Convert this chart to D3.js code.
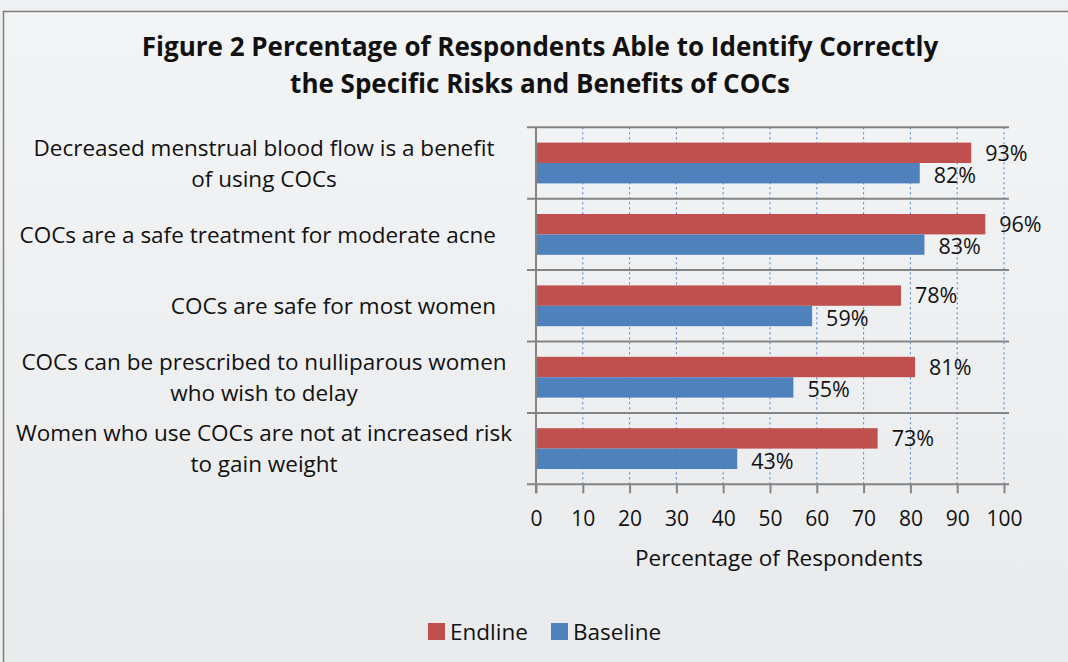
<!DOCTYPE html>
<html>
<head>
<meta charset="utf-8">
<script src="https://cdn.jsdelivr.net/npm/d3@7"></script>
<style>
  body { margin: 0; background: #eceef0; }
  svg { display: block; font-family: "Open Sans", sans-serif; }
</style>
</head>
<body>
<svg width="1068" height="662"></svg>
<script>
// chart data
var categories = [
  ["Decreased menstrual blood flow is a benefit", "of using COCs"],
  ["COCs are a safe treatment for moderate acne"],
  ["COCs are safe for most women"],
  ["COCs can be prescribed to nulliparous women", "who wish to delay"],
  ["Women who use COCs are not at increased risk", "to gain weight"]
];
var seriesNames = ["Endline", "Baseline"];
var endline = [93, 96, 78, 81, 73];
var baseline = [82, 83, 59, 55, 43];
var xTicks = [0, 10, 20, 30, 40, 50, 60, 70, 80, 90, 100];
var titleLines = [
  "Figure 2 Percentage of Respondents Able to Identify Correctly",
  "the Specific Risks and Benefits of COCs"
];
var xTitle = "Percentage of Respondents";

var colors = { Endline: "#c0504d", Baseline: "#4f81bd" };

var svg = d3.select("svg");
var width = +svg.attr("width");
var height = +svg.attr("height");

// background gradient and frame
var defs = svg.append("defs");
var grad = defs.append("linearGradient").attr("id", "bg")
  .attr("x1", 0).attr("y1", 0).attr("x2", 0).attr("y2", 1);
grad.append("stop").attr("offset", "0%").attr("stop-color", "#f3f4f5");
grad.append("stop").attr("offset", "100%").attr("stop-color", "#e9eaec");

svg.append("rect").attr("width", width).attr("height", height).attr("fill", "#eef0f1");
svg.append("rect")
  .attr("x", 3.5).attr("y", 11.5)
  .attr("width", width + 10).attr("height", height + 10)
  .attr("fill", "url(#bg)")
  .attr("stroke", "#7f7f7f").attr("stroke-width", 1.5);

// title
svg.append("g").selectAll("text")
  .data(titleLines).enter().append("text")
  .attr("x", 540)
  .attr("y", function(d, i) { return 56 + i * 37; })
  .attr("text-anchor", "middle")
  .style("font-size", "26px")
  .style("font-weight", "bold")
  .style("fill", "#111")
  .text(function(d) { return d; });

// scales
var x = d3.scaleLinear().domain([0, 100]).range([536, 1004]);
var y = d3.scaleBand().domain(d3.range(categories.length)).range([127.3, 484.3]);
var inner = d3.scaleBand().domain(seriesNames).range([0, y.bandwidth()]).paddingInner(0).paddingOuter(0.75);

var plot = svg.append("g").attr("id", "plot");

// dotted vertical gridlines
plot.append("g").selectAll("line")
  .data(xTicks.slice(1)).enter().append("line")
  .attr("x1", function(d) { return x(d); })
  .attr("x2", function(d) { return x(d); })
  .attr("y1", y.range()[0]).attr("y2", y.range()[1])
  .attr("stroke", "#4a7fc8").attr("stroke-width", 1)
  .attr("stroke-dasharray", "2,3");

// category separator lines
var seps = d3.range(categories.length + 1).map(function(i) {
  return y.range()[0] + i * y.step();
});
plot.append("g").selectAll("line")
  .data(seps).enter().append("line")
  .attr("x1", 527).attr("x2", 1009)
  .attr("y1", function(d) { return d; })
  .attr("y2", function(d) { return d; })
  .attr("stroke", "#848484").attr("stroke-width", 2);

// bars
var rows = categories.map(function(c, i) {
  return [
    { cat: i, key: "Endline", value: endline[i] },
    { cat: i, key: "Baseline", value: baseline[i] }
  ];
});
var bars = plot.append("g").selectAll("g")
  .data(rows).enter().append("g")
  .attr("transform", function(d, i) { return "translate(0," + y(i) + ")"; });

bars.selectAll("rect")
  .data(function(d) { return d; }).enter().append("rect")
  .attr("x", x(0))
  .attr("y", function(d) { return inner(d.key); })
  .attr("width", function(d) { return x(d.value) - x(0); })
  .attr("height", inner.bandwidth())
  .attr("fill", function(d) { return colors[d.key]; });

bars.selectAll("text")
  .data(function(d) { return d; }).enter().append("text")
  .attr("x", function(d) { return x(d.value) + 14; })
  .attr("y", function(d) { return inner(d.key) + inner.bandwidth() / 2 + (d.key == "Baseline" ? 2 : 0); })
  .attr("dy", "0.36em")
  .style("font-size", "21.5px")
  .style("fill", "#111")
  .text(function(d) { return d.value + "%"; });

// x axis
var xAxis = d3.axisBottom(x).tickValues(xTicks).tickSize(9).tickPadding(18);
var gx = plot.append("g")
  .attr("transform", "translate(0," + y.range()[1] + ")")
  .call(xAxis);
gx.select(".domain").remove();
gx.selectAll(".tick line").attr("stroke", "#848484").attr("stroke-width", 2);
gx.selectAll(".tick text")
  .style("font-family", "'Open Sans', sans-serif")
  .style("font-size", "21px")
  .style("fill", "#111");

// y axis line
plot.append("line")
  .attr("x1", x(0)).attr("x2", x(0))
  .attr("y1", y.range()[0]).attr("y2", y.range()[1] + 9)
  .attr("stroke", "#848484").attr("stroke-width", 2);

// category labels
var labels = svg.append("g").selectAll("text")
  .data(categories).enter().append("text")
  .attr("text-anchor", function(d) { return d.length > 1 ? "middle" : "end"; })
  .style("font-size", "22.5px")
  .style("fill", "#111");
labels.selectAll("tspan")
  .data(function(d, i) {
    return d.map(function(line, j) {
      return { line: line, i: i, j: j, n: d.length };
    });
  }).enter().append("tspan")
  .attr("x", function(d) { return d.n > 1 ? 264 : 496; })
  .attr("y", function(d) {
    return y(d.i) + y.bandwidth() / 2 + (d.j - (d.n - 1) / 2) * 31;
  })
  .attr("dy", "0.36em")
  .text(function(d) { return d.line; });

// x axis title
svg.append("text")
  .attr("x", 779).attr("y", 558)
  .attr("dy", "0.36em")
  .attr("text-anchor", "middle")
  .style("font-size", "22.5px")
  .style("fill", "#111")
  .text(xTitle);

// legend
var legend = svg.append("g").attr("transform", "translate(428,623)");
var items = legend.selectAll("g")
  .data(seriesNames).enter().append("g")
  .attr("transform", function(d, i) { return "translate(" + (i * 123) + ",0)"; });
items.append("rect")
  .attr("width", 17).attr("height", 17)
  .attr("fill", function(d) { return colors[d]; });
items.append("text")
  .attr("x", 22).attr("y", 8.5)
  .attr("dy", "0.36em")
  .style("font-size", "22.5px")
  .style("fill", "#111")
  .text(function(d) { return d; });
</script>
</body>
</html>
